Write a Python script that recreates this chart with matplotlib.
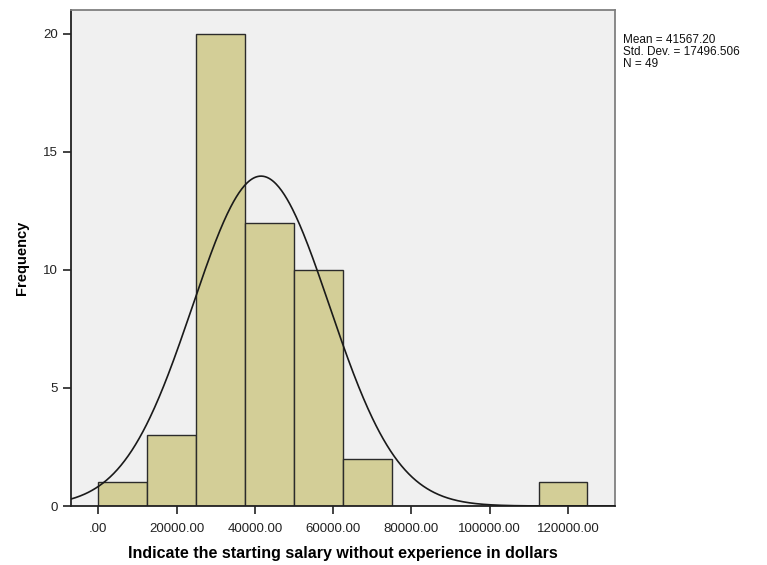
import numpy as np
import matplotlib.pyplot as plt

# histogram data
bin_edges = [0, 12500, 25000, 37500, 50000, 62500, 75000, 87500, 100000, 112500, 125000]
counts = [1, 3, 20, 12, 10, 2, 0, 0, 0, 1]
mean = 41567.20
std = 17496.506
n = 49

xticks = [0, 20000, 40000, 60000, 80000, 100000, 120000]
xtick_labels = ['.00', '20000.00', '40000.00', '60000.00', '80000.00', '100000.00', '120000.00']
yticks = [0, 5, 10, 15, 20]

plt.rcParams['font.family'] = ['Liberation Sans', 'DejaVu Sans']

fig = plt.figure(figsize=(7.67, 5.65), dpi=100)
ax = fig.add_axes([0.0926, 0.1044, 0.709, 0.878])
ax.set_facecolor('#f0f0f0')

widths = np.diff(bin_edges)
ax.bar(bin_edges[:-1], counts, width=widths, align='edge',
       color='#d3ce97', edgecolor='#2b2b2b', linewidth=1.0, zorder=2)

# normal curve scaled to the histogram
bw = bin_edges[1] - bin_edges[0]
xs = np.linspace(-7000, 132000, 600)
ys = n * bw / (std * np.sqrt(2 * np.pi)) * np.exp(-0.5 * ((xs - mean) / std) ** 2)
ax.plot(xs, ys, color='#1a1a1a', linewidth=1.2, zorder=3)

ax.set_xlim(-7000, 132000)
ax.set_ylim(0, 21)
ax.set_xticks(xticks)
ax.set_xticklabels(xtick_labels)
ax.set_yticks(yticks)
ax.tick_params(axis='both', direction='out', length=6, width=1.2, labelsize=9.5, colors='#222222')
ax.tick_params(axis='x', pad=6)

for side in ['left', 'bottom']:
    ax.spines[side].set_color('#222222')
    ax.spines[side].set_linewidth(1.3)
for side in ['top', 'right']:
    ax.spines[side].set_color('#808080')
    ax.spines[side].set_linewidth(1.3)

ax.set_xlabel('Indicate the starting salary without experience in dollars',
              fontsize=11.5, fontweight='bold', labelpad=8)
ax.set_ylabel('Frequency', fontsize=10.5, fontweight='bold', labelpad=10)

fig.text(0.812, 0.94, 'Mean = 41567.20\nStd. Dev. = 17496.506\nN = 49',
         fontsize=8.5, va='top', ha='left', linespacing=1.0, color='#111111')

fig.savefig('out.png', dpi=100)
